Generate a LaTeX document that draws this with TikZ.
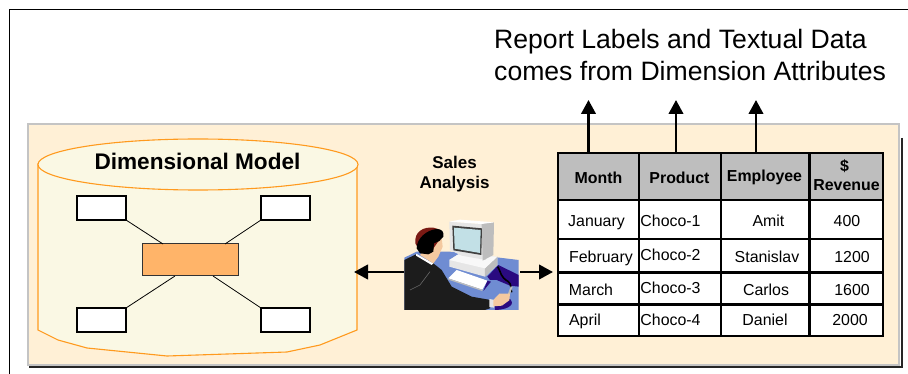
\documentclass[tikz,border=0pt]{standalone}
\usepackage{fontspec}
\setmainfont{Liberation Sans}
\usetikzlibrary{arrows.meta}
\definecolor{panelfill}{HTML}{FFF0D6}
\definecolor{panelline}{HTML}{C4C4C4}
\definecolor{cylfill}{HTML}{FAF8E4}
\definecolor{cylline}{HTML}{FF9A1E}
\definecolor{factfill}{HTML}{FFB469}
\definecolor{headfill}{HTML}{BEBEBE}
\definecolor{deskblue}{HTML}{6F8CD2}
\definecolor{deskdark}{HTML}{2A0A80}
\definecolor{pcgrey}{HTML}{E6E6E6}
\definecolor{pcside}{HTML}{BDBDBD}
\definecolor{screenblue}{HTML}{C2E0E6}
\definecolor{suit}{HTML}{1C1C1C}
\definecolor{hairred}{HTML}{7A1A14}
\definecolor{skin}{HTML}{F4C9A0}
\tikzset{
  dimbox/.style={draw=black,line width=2.2pt,fill=white,minimum width=49pt,minimum height=24pt,inner sep=0pt,outer sep=0pt},
  factbox/.style={draw=black!80,line width=1pt,fill=factfill,minimum width=96pt,minimum height=32pt,inner sep=0pt,outer sep=0pt},
  link/.style={draw=black,line width=0.8pt},
  cellbox/.style={draw=black,line width=2.1pt,fill=white,inner sep=0pt,outer sep=0pt,anchor=north west},
  headbox/.style={cellbox,fill=headfill},
  celltext/.style={font=\fontsize{15.9}{17}\selectfont,inner sep=0pt,text height=11pt,text depth=0pt},
  headtext/.style={font=\fontsize{15.9}{17}\selectfont\bfseries,inner sep=0pt,text height=11pt,text depth=0pt},
  salestext/.style={font=\fontsize{17}{20}\selectfont\bfseries,inner sep=0pt,text height=12pt,text depth=0pt},
  arrowline/.style={draw=black,line width=2.5pt,-{Triangle[length=14pt,width=14.5pt]}},
  titletext/.style={font=\fontsize{26.6}{30}\selectfont,inner sep=0pt,anchor=west,text height=19pt,text depth=0pt}
}
\newcommand{\cellat}[6]{\node[#1,minimum width=#4 pt,minimum height=#5 pt] (#6) at (#2,#3) {};}
\begin{document}
\begin{tikzpicture}[x=1pt,y=-1pt]
\useasboundingbox (0,0) rectangle (908,374);
\fill[white] (0,0) rectangle (908,374);
% frame
\draw[black,line width=1.2pt] (9.5,374) -- (9.5,9.5) -- (908,9.5);
% panel
\draw[black!85,line width=2pt] (902,138) -- (902,366.5) -- (29,366.5);
\draw[panelline,line width=2pt,fill=panelfill] (27.5,124.5) rectangle (899,364.5);
% cylinder
\draw[cylline,line width=1.1pt,fill=cylfill] (38,164) -- (38,330) -- (58,340) -- (87,348) -- (167,356) -- (287,352) -- (320,345) -- (357,330) -- (357,164) -- cycle;
\draw[cylline,line width=1.1pt,fill=cylfill] (198,164.5) ellipse [x radius=160,y radius=25.5];
\node[font=\fontsize{22.6}{26}\selectfont\bfseries,inner sep=0pt,text height=16pt,text depth=0pt] (dimtitle) at (197.5,162) {Dimensional Model};
% star schema
\node[factbox] (fact) at (190,260) {};
\node[dimbox] (d1) at (101.5,208) {};
\node[dimbox] (d2) at (285.5,208) {};
\node[dimbox] (d3) at (101.5,320) {};
\node[dimbox] (d4) at (285.5,320) {};
\draw[link] (d1.south east) -- ([xshift=-27pt]fact.north);
\draw[link] (d2.south west) -- ([xshift=35pt]fact.north);
\draw[link] (d3.north east) -- ([xshift=-15pt]fact.south);
\draw[link] (d4.north west) -- ([xshift=23pt]fact.south);
% sales analysis
\node[salestext] (sales1) at (454.5,163) {Sales};
\node[salestext] (sales2) at (454.5,183) {Analysis};
% clip-art
\coordinate (userL) at (404,272);
\coordinate (userR) at (520,272);
\begin{scope}[shift={(400,215)},x=0.3333pt,y=-0.3333pt]
  \fill[deskblue] (13,128) -- (50,110) -- (150,110) -- (356,135) -- (356,285) -- (13,285) -- cycle;
  \fill[deskdark] (262,185) -- (295,150) -- (356,180) -- (356,215) -- (330,212) -- (290,195) -- (270,195) -- cycle;
  \fill[deskdark] (250,228) -- (262,197) -- (273,200) -- cycle;
  \fill[deskdark] (285,268) .. controls (310,250) and (336,245) .. (336,262) .. controls (336,280) and (300,285) .. (285,285) -- cycle;
  % base
  \fill[pcgrey] (148,135) -- (175,118) -- (292,125) -- (292,150) -- (255,185) -- (148,155) -- cycle;
  \fill[pcside] (255,160) -- (292,125) -- (292,150) -- (255,185) -- cycle;
  \fill[white!70!pcgrey] (148,135) -- (175,118) -- (292,125) -- (255,160) -- cycle;
  % monitor
  \fill[pcgrey] (148,20) -- (258,28) -- (258,135) -- (185,122) -- (150,105) -- cycle;
  \fill[pcside] (245,25) -- (282,22) -- (280,120) -- (248,137) -- cycle;
  \fill[white] (148,20) -- (180,14) -- (282,22) -- (245,27) -- cycle;
  \fill[black!75] (157,32) -- (246,40) -- (244,120) -- (160,106) -- cycle;
  \fill[screenblue] (162,38) -- (242,45) -- (240,114) -- (164,101) -- cycle;
  % keyboard
  \fill[white] (145,190) -- (170,165) -- (262,197) -- (247,224) -- cycle;
  \fill[pcside] (145,190) -- (247,224) -- (247,228) -- (145,194) -- cycle;
  % cord
  \draw[black,line width=1.6pt] (293,155) .. controls (305,175) and (300,185) .. (325,200) .. controls (335,206) and (332,225) .. (335,232);
  \draw[pcside,line width=2pt] (335,215) -- (322,250);
  % person
  \fill[suit] (13,285) -- (13,135) -- (48,118) -- (100,145) -- (125,165) -- (155,215) -- (215,245) -- (272,255) -- (270,280) -- (255,285) -- cycle;
  \draw[black!60,line width=0.6pt] (90,170) -- (60,210) -- (30,225);
  \fill[white] (48,116) -- (100,145) -- (95,150) -- (48,122) -- cycle;
  \fill[skin] (85,90) -- (125,70) -- (128,95) -- (115,125) -- (100,145) -- (60,120) -- cycle;
  \fill[hairred] (46,85) .. controls (42,50) and (70,35) .. (100,38) .. controls (120,42) and (130,50) .. (128,60) -- (90,115) -- (60,110) -- cycle;
  \fill[black] (50,100) .. controls (50,70) and (80,45) .. (110,42) .. controls (125,42) and (133,50) .. (130,65) -- (118,78) -- (102,85) -- (100,110) -- (85,118) -- (60,115) -- cycle;
  % hand
  \fill[pcgrey] (268,252) -- (284,255) -- (282,278) -- (268,276) -- cycle;
  \fill[skin] (280,255) -- (298,236) -- (330,236) -- (328,256) -- (306,272) -- (280,274) -- cycle;
\end{scope}
\draw[arrowline] (userL) -- (354,272);
\draw[arrowline] (userR) -- (553,272);
% table
\cellat{headbox}{558}{153}{81}{47}{h1}
\cellat{headbox}{639}{153}{82}{47}{h2}
\cellat{headbox}{721}{153}{88.5}{47}{h3}
\cellat{headbox}{809.5}{153}{73.5}{47}{h4}
\cellat{cellbox}{558}{200}{81}{39}{a1}
\cellat{cellbox}{639}{200}{82}{39}{a2}
\cellat{cellbox}{721}{200}{88.5}{39}{a3}
\cellat{cellbox}{809.5}{200}{73.5}{39}{a4}
\cellat{cellbox}{558}{239}{81}{33.5}{b1}
\cellat{cellbox}{639}{239}{82}{33.5}{b2}
\cellat{cellbox}{721}{239}{88.5}{33.5}{b3}
\cellat{cellbox}{809.5}{239}{73.5}{33.5}{b4}
\cellat{cellbox}{558}{272.5}{81}{32}{c1}
\cellat{cellbox}{639}{272.5}{82}{32}{c2}
\cellat{cellbox}{721}{272.5}{88.5}{32}{c3}
\cellat{cellbox}{809.5}{272.5}{73.5}{32}{c4}
\cellat{cellbox}{558}{304.5}{81}{31.5}{e1}
\cellat{cellbox}{639}{304.5}{82}{31.5}{e2}
\cellat{cellbox}{721}{304.5}{88.5}{31.5}{e3}
\cellat{cellbox}{809.5}{304.5}{73.5}{31.5}{e4}
\node[headtext] (t11) at (598.5,178) {Month};
\node[headtext] (t12) at (679.5,178.5) {Product};
\node[headtext] (t13) at (764.5,176.5) {Employee};
\node[headtext] (t14a) at (844.5,166) {\$};
\node[headtext] (t14b) at (846.5,185) {Revenue};
\node[celltext] (t21) at (596.5,221.5) {January};
\node[celltext] (t22) at (670.5,221.5) {Choco-1};
\node[celltext] (t23) at (768.5,221.5) {Amit};
\node[celltext] (t24) at (847,221.5) {400};
\node[celltext] (t31) at (601,257.5) {February};
\node[celltext] (t32) at (670.5,255.5) {Choco-2};
\node[celltext] (t33) at (767,257.5) {Stanislav};
\node[celltext] (t34) at (852,257.5) {1200};
\node[celltext] (t41) at (591,290) {March};
\node[celltext] (t42) at (670.5,288) {Choco-3};
\node[celltext] (t43) at (766,290) {Carlos};
\node[celltext] (t44) at (852,290) {1600};
\node[celltext] (t51) at (585,319.5) {April};
\node[celltext] (t52) at (670.5,319.5) {Choco-4};
\node[celltext] (t53) at (765,319.5) {Daniel};
\node[celltext] (t54) at (850,319.5) {2000};
% up arrows
\coordinate (tipA) at (588.5,100);
\coordinate (tipB) at (676,100);
\coordinate (tipC) at (756,100);
\draw[arrowline] (tipA |- h1.north) -- (tipA);
\draw[arrowline] (tipB |- h2.north) -- (tipB);
\draw[arrowline] (tipC |- h3.north) -- (tipC);
% title
\node[titletext] (title1) at (494,39) {Report Labels and Textual Data};
\node[titletext] (title2) at (494,71) {comes from Dimension Attributes};
\end{tikzpicture}
\end{document}
